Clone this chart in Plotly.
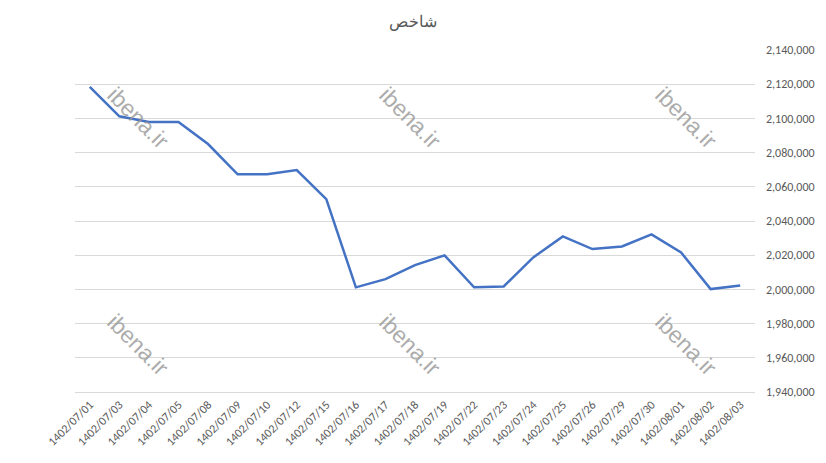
"""
Index line chart (شاخص) for 1402/07/01 - 1402/08/03
"""

import plotly.graph_objects as go

# Trading dates (Solar Hijri)
dates = [
    "1402/07/01", "1402/07/03", "1402/07/04", "1402/07/05", "1402/07/08",
    "1402/07/09", "1402/07/10", "1402/07/12", "1402/07/15", "1402/07/16",
    "1402/07/17", "1402/07/18", "1402/07/19", "1402/07/22", "1402/07/23",
    "1402/07/24", "1402/07/25", "1402/07/26", "1402/07/29", "1402/07/30",
    "1402/08/01", "1402/08/02", "1402/08/03",
]

# Index values
index_values = [
    2118500, 2101200, 2097900, 2097900, 2085000,
    2067300, 2067300, 2069800, 2052800, 2001200,
    2006000, 2014200, 2019900, 2001200, 2001700,
    2018700, 2031000, 2023600, 2025100, 2032200,
    2021600, 2000200, 2002300,
]

y_ticks = list(range(1940000, 2140001, 20000))

fig = go.Figure(go.Scatter(
    x=dates,
    y=index_values,
    mode="lines",
    line=dict(color="#4472C4", width=2.5),
    hovertemplate="%{x}<br>%{y:,.0f}<extra></extra>",
))

# Watermarks
for wx in [0.093, 0.493, 0.899]:
    for wy in [0.80, 0.137]:
        fig.add_annotation(
            x=wx, y=wy, xref="paper", yref="paper",
            xanchor="center", yanchor="middle",
            text="ibena.ir", showarrow=False, textangle=45,
            font=dict(family="Arial, Liberation Sans", size=23, color="rgba(150,150,150,0.8)"),
        )

# page body has an 8px margin, so the figure is 16px smaller than the window
fig.update_layout(
    title=dict(
        text="شاخص",
        x=0.5,
        y=0.969,
        xanchor="center",
        yanchor="middle",
        font=dict(family="Arial, Liberation Sans", size=15.5, color="#595959"),
    ),
    xaxis=dict(
        type="category",
        range=[-0.5, len(dates) - 0.5],
        tickangle=-45,
        tickfont=dict(family="Calibri, Carlito, Liberation Sans", size=12, color="#595959"),
        showgrid=False,
        showline=True,
        linecolor="#D9D9D9",
        linewidth=1,
        ticks="",
        automargin=False,
    ),
    yaxis=dict(
        side="right",
        range=[1940000, 2140000],
        tickvals=y_ticks,
        tickformat=",d",
        tickfont=dict(family="Calibri, Carlito, Liberation Sans", size=12, color="#595959"),
        showgrid=True,
        gridcolor="#D9D9D9",
        gridwidth=1,
        zeroline=False,
        ticklabelstandoff=10,
        automargin=False,
    ),
    plot_bgcolor="white",
    paper_bgcolor="white",
    width=810,
    height=447,
    margin=dict(l=67, r=63, t=42, b=63),
    showlegend=False,
)

fig.write_html("out.html")
